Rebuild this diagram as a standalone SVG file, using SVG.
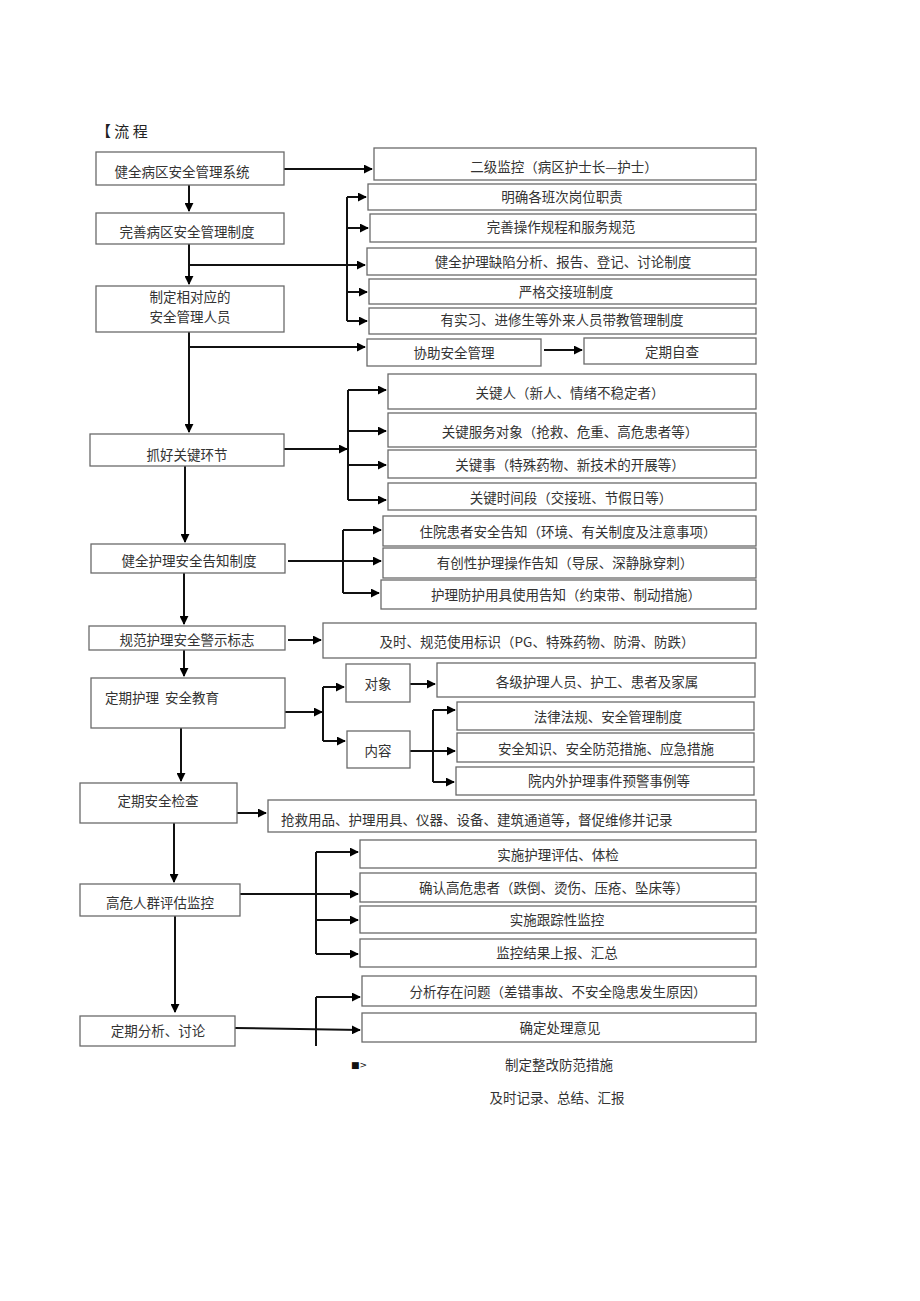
<svg xmlns="http://www.w3.org/2000/svg" width="920" height="1301" viewBox="0 0 920 1301">
<defs>
<marker id="ah" viewBox="0 0 10 10" refX="9" refY="5" markerWidth="4.5" markerHeight="4.5" orient="auto" markerUnits="strokeWidth">
<path d="M0,0 L10,5 L0,10 Z" fill="#000"/>
</marker>
</defs>
<style>
.b{fill:#fff;stroke:#6a6a6a;stroke-width:1.3}
.t{font-family:"Noto Sans CJK SC","Noto Sans",sans-serif;font-size:13.5px;fill:#333;text-anchor:middle}
.l{text-anchor:start}
.c{fill:none;stroke:#111;stroke-width:2}
.a{marker-end:url(#ah)}
</style>
<rect width="920" height="1301" fill="#fff"/>
<text x="96" y="137" style="font-family:'Noto Sans CJK SC',sans-serif;font-size:15px;fill:#222">【 流 程</text>

<g id="connectors">
<path class="c a" d="M284,169 H372"/>
<path class="c a" d="M189,185 V211"/>
<path class="c" d="M347,197 V321"/>
<path class="c a" d="M347,197 H366"/>
<path class="c a" d="M347,228 H368"/>
<path class="c a" d="M189,265 H365"/>
<path class="c a" d="M347,292 H367"/>
<path class="c a" d="M347,321 H367"/>
<path class="c a" d="M189,244 V284"/>
<path class="c a" d="M189,332 V432"/>
<path class="c a" d="M189,347 H365"/>
<path class="c a" d="M544,350 H582"/>
<path class="c a" d="M284,449 H347"/>
<path class="c" d="M348,390 V500"/>
<path class="c a" d="M348,390 H386"/>
<path class="c a" d="M348,431 H386"/>
<path class="c a" d="M348,465 H386"/>
<path class="c a" d="M348,500 H386"/>
<path class="c a" d="M185,466 V542"/>
<path class="c a" d="M288,561 H381"/>
<path class="c" d="M343,530 V593"/>
<path class="c a" d="M343,530 H381"/>
<path class="c a" d="M343,593 H379"/>
<path class="c a" d="M184,573 V624"/>
<path class="c a" d="M288,640 H321"/>
<path class="c a" d="M184,650 V676"/>
<path class="c a" d="M285,712 H322"/>
<path class="c" d="M323,687 V741"/>
<path class="c a" d="M323,687 H344"/>
<path class="c a" d="M323,741 H345"/>
<path class="c a" d="M410,684 H435"/>
<path class="c a" d="M410,751 H455"/>
<path class="c" d="M433,710 V782"/>
<path class="c a" d="M433,710 H455"/>
<path class="c a" d="M433,782 H454"/>
<path class="c a" d="M181,728 V781"/>
<path class="c a" d="M237,813 H266"/>
<path class="c a" d="M174,823 V882"/>
<path class="c a" d="M240,894 H358"/>
<path class="c" d="M316,852 V954"/>
<path class="c a" d="M316,852 H358"/>
<path class="c a" d="M316,920 H358"/>
<path class="c a" d="M316,954 H358"/>
<path class="c a" d="M175,916 V1012"/>
<path class="c a" d="M235,1028 L360,1030"/>
<path class="c" d="M316,997 V1046"/>
<path class="c a" d="M316,997 H360"/>
</g>

<g id="n1"><rect class="b" x="96" y="152" width="188" height="33"/><text class="t" x="182" y="177">健全病区安全管理系统</text></g>
<g id="n2"><rect class="b" x="374" y="148" width="382" height="32"/><text class="t" x="564" y="172">二级监控（病区护士长—护士）</text></g>
<g id="n3"><rect class="b" x="368" y="184" width="388" height="26"/><text class="t" x="562" y="202">明确各班次岗位职责</text></g>
<g id="n4"><rect class="b" x="96" y="213" width="188" height="31"/><text class="t" x="187" y="237">完善病区安全管理制度</text></g>
<g id="n5"><rect class="b" x="370" y="214" width="386" height="28"/><text class="t" x="561" y="232">完善操作规程和服务规范</text></g>
<g id="n6"><rect class="b" x="367" y="248" width="389" height="27"/><text class="t" x="563" y="267">健全护理缺陷分析、报告、登记、讨论制度</text></g>
<g id="n7"><rect class="b" x="96" y="286" width="188" height="46"/><text class="t" x="190" y="302">制定相对应的</text><text class="t" x="190" y="322">安全管理人员</text></g>
<g id="n8"><rect class="b" x="369" y="279" width="387" height="25"/><text class="t" x="566" y="297">严格交接班制度</text></g>
<g id="n9"><rect class="b" x="369" y="308" width="387" height="26"/><text class="t" x="562" y="325">有实习、进修生等外来人员带教管理制度</text></g>
<g id="n10"><rect class="b" x="367" y="339" width="174" height="27"/><text class="t" x="454" y="358">协助安全管理</text></g>
<g id="n11"><rect class="b" x="584" y="338" width="172" height="26"/><text class="t" x="672" y="357">定期自查</text></g>
<g id="n12"><rect class="b" x="90" y="434" width="194" height="32"/><text class="t" x="187" y="460">抓好关键环节</text></g>
<g id="n13"><rect class="b" x="388" y="374" width="368" height="35"/><text class="t" x="570" y="398">关键人（新人、情绪不稳定者）</text></g>
<g id="n14"><rect class="b" x="388" y="413" width="368" height="34"/><text class="t" x="570" y="437">关键服务对象（抢救、危重、高危患者等）</text></g>
<g id="n15"><rect class="b" x="388" y="450" width="368" height="28"/><text class="t" x="570" y="470">关键事（特殊药物、新技术的开展等）</text></g>
<g id="n16"><rect class="b" x="388" y="483" width="368" height="27"/><text class="t" x="571" y="503">关键时间段（交接班、节假日等）</text></g>
<g id="n17"><rect class="b" x="91" y="544" width="194" height="29"/><text class="t" x="189" y="566">健全护理安全告知制度</text></g>
<g id="n18"><rect class="b" x="383" y="516" width="373" height="30"/><text class="t" x="568" y="537">住院患者安全告知（环境、有关制度及注意事项）</text></g>
<g id="n19"><rect class="b" x="383" y="548" width="373" height="30"/><text class="t" x="565" y="568">有创性护理操作告知（导尿、深静脉穿刺）</text></g>
<g id="n20"><rect class="b" x="381" y="580" width="375" height="29"/><text class="t" x="566" y="600">护理防护用具使用告知（约束带、制动措施）</text></g>
<g id="n21"><rect class="b" x="89" y="626" width="196" height="24"/><text class="t" x="187" y="645">规范护理安全警示标志</text></g>
<g id="n22"><rect class="b" x="323" y="623" width="433" height="35"/><text class="t" x="537" y="647">及时、规范使用标识（PG、特殊药物、防滑、防跌）</text></g>
<g id="n23"><rect class="b" x="91" y="678" width="194" height="50"/><text class="t l" x="105" y="703" xml:space="preserve">定期护理  安全教育</text></g>
<g id="n24"><rect class="b" x="346" y="664" width="64" height="38"/><text class="t" x="378" y="689">对象</text></g>
<g id="n25"><rect class="b" x="437" y="663" width="318" height="34"/><text class="t" x="597" y="687">各级护理人员、护工、患者及家属</text></g>
<g id="n26"><rect class="b" x="347" y="731" width="63" height="37"/><text class="t" x="378" y="756">内容</text></g>
<g id="n27"><rect class="b" x="457" y="702" width="297" height="28"/><text class="t" x="608" y="722">法律法规、安全管理制度</text></g>
<g id="n28"><rect class="b" x="457" y="733" width="297" height="29"/><text class="t" x="606" y="754">安全知识、安全防范措施、应急措施</text></g>
<g id="n29"><rect class="b" x="456" y="767" width="298" height="28"/><text class="t" x="609" y="786">院内外护理事件预警事例等</text></g>
<g id="n30"><rect class="b" x="80" y="783" width="157" height="40"/><text class="t" x="158" y="806">定期安全检查</text></g>
<g id="n31"><rect class="b" x="268" y="800" width="488" height="32"/><text class="t l" x="281" y="825">抢救用品、护理用具、仪器、设备、建筑通道等，督促维修并记录</text></g>
<g id="n32"><rect class="b" x="80" y="884" width="160" height="32"/><text class="t" x="160" y="908">高危人群评估监控</text></g>
<g id="n33"><rect class="b" x="360" y="840" width="396" height="28"/><text class="t" x="558" y="860">实施护理评估、体检</text></g>
<g id="n34"><rect class="b" x="360" y="873" width="396" height="29"/><text class="t" x="554" y="893">确认高危患者（跌倒、烫伤、压疮、坠床等）</text></g>
<g id="n35"><rect class="b" x="360" y="906" width="396" height="27"/><text class="t" x="557" y="925">实施跟踪性监控</text></g>
<g id="n36"><rect class="b" x="360" y="939" width="396" height="28"/><text class="t" x="557" y="958">监控结果上报、汇总</text></g>
<g id="n37"><rect class="b" x="80" y="1016" width="155" height="30"/><text class="t" x="158" y="1036">定期分析、讨论</text></g>
<g id="n38"><rect class="b" x="362" y="976" width="394" height="30"/><text class="t" x="558" y="997">分析存在问题（差错事故、不安全隐患发生原因）</text></g>
<g id="n39"><rect class="b" x="362" y="1013" width="394" height="29"/><text class="t" x="560" y="1033">确定处理意见</text></g>
<g id="n40"><text x="351" y="1068" style="font-family:'DejaVu Sans',sans-serif;font-size:9px;fill:#111">■&gt;</text><text class="t" x="559" y="1070">制定整改防范措施</text></g>
<g id="n41"><text class="t" x="557" y="1103">及时记录、总结、汇报</text></g>
</svg>
